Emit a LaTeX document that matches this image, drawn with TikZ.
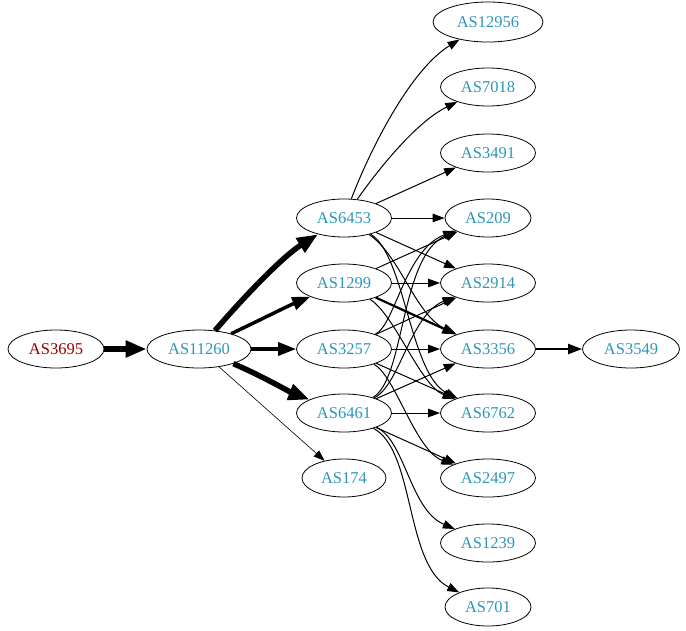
\documentclass[tikz,border=0pt]{standalone}
\usepackage{fontspec}
\setmainfont{Liberation Serif}
\usetikzlibrary{arrows.meta,shapes.geometric}
\definecolor{asblue}{RGB}{46,150,185}
\definecolor{asred}{RGB}{153,0,0}
\tikzset{
  asnode/.style={draw, ellipse, inner sep=0pt, minimum height=38pt, minimum width=95pt, text=asblue, font=\fontsize{16.5pt}{18pt}\selectfont, line width=0.8pt},
  edge/.style={line width=1pt, -{Triangle[length=12pt,width=8.5pt]}},
  thinedge/.style={line width=0.6pt, -{Triangle[length=11pt,width=8pt]}},
  midedge/.style={line width=2.2pt, -{Triangle[length=14pt,width=10pt]}},
  bigedge/.style={line width=3.5pt, -{Triangle[length=18pt,width=13pt]}},
  hugeedge/.style={line width=5.5pt, -{Triangle[length=21pt,width=16pt]}},
}
\begin{document}
\begin{tikzpicture}[x=1pt,y=-1pt]
\useasboundingbox (0,0) rectangle (686,630);
\node[asnode, text=asred, minimum width=96pt] (a3695) at (56,349) {AS3695};
\node[asnode, minimum width=104pt] (a11260) at (199,349) {AS11260};
\node[asnode] (a6453) at (344,218) {AS6453};
\node[asnode] (a1299) at (344,283) {AS1299};
\node[asnode] (a3257) at (344,349) {AS3257};
\node[asnode] (a6461) at (344,413) {AS6461};
\node[asnode, minimum width=84pt] (a174) at (344,478) {AS174};
\node[asnode, minimum width=110pt, minimum height=40pt] (a12956) at (488,22) {AS12956};
\node[asnode] (a7018) at (488,87) {AS7018};
\node[asnode] (a3491) at (488,153) {AS3491};
\node[asnode, minimum width=86pt] (a209) at (488,218) {AS209};
\node[asnode] (a2914) at (488,283) {AS2914};
\node[asnode] (a3356) at (488,349) {AS3356};
\node[asnode] (a6762) at (488,413) {AS6762};
\node[asnode] (a2497) at (488,478) {AS2497};
\node[asnode] (a1239) at (488,543) {AS1239};
\node[asnode, minimum width=86pt] (a701) at (488,607) {AS701};
\node[asnode, minimum width=97pt] (a3549) at (631,349) {AS3549};

\draw[hugeedge] (a3695) -- (a11260);
\draw[hugeedge] (a11260) .. controls (250,290) and (285,255) .. (a6453);
\draw[bigedge] (a11260) .. controls (260,320) and (290,305) .. (a1299);
\draw[bigedge] (a11260) -- (a3257);
\draw[hugeedge] (a11260) .. controls (260,375) and (290,392) .. (a6461);
\draw[thinedge] (a11260) -- (a174);

\draw[edge] (a6453) .. controls (370,150) and (410,70) .. (a12956);
\draw[edge] (a6453) .. controls (385,160) and (420,120) .. (a7018);
\draw[edge] (a6453) -- (a3491);
\draw[edge] (a6453) -- (a209);
\draw[edge] (a6453) -- (a2914);
\draw[edge] (a6453) .. controls (400,255) and (415,315) .. (a3356);
\draw[edge] (a6453) .. controls (405,255) and (410,375) .. (a6762);

\draw[edge] (a1299) -- (a209);
\draw[edge] (a1299) -- (a2914);
\draw[midedge] (a1299) -- (a3356);
\draw[edge] (a1299) .. controls (395,315) and (420,385) .. (a6762);

\draw[edge] (a3257) .. controls (395,325) and (405,250) .. (a209);
\draw[edge] (a3257) -- (a2914);
\draw[edge] (a3257) -- (a3356);
\draw[edge] (a3257) -- (a6762);
\draw[edge] (a3257) .. controls (395,375) and (415,450) .. (a2497);

\draw[edge] (a6461) .. controls (405,380) and (400,255) .. (a209);
\draw[edge] (a6461) .. controls (400,385) and (410,315) .. (a2914);
\draw[edge] (a6461) -- (a3356);
\draw[edge] (a6461) -- (a6762);
\draw[edge] (a6461) -- (a2497);
\draw[edge] (a6461) .. controls (405,440) and (410,510) .. (a1239);
\draw[edge] (a6461) .. controls (415,450) and (405,565) .. (a701);

\draw[midedge] (a3356) -- (a3549);
\end{tikzpicture}
\end{document}
